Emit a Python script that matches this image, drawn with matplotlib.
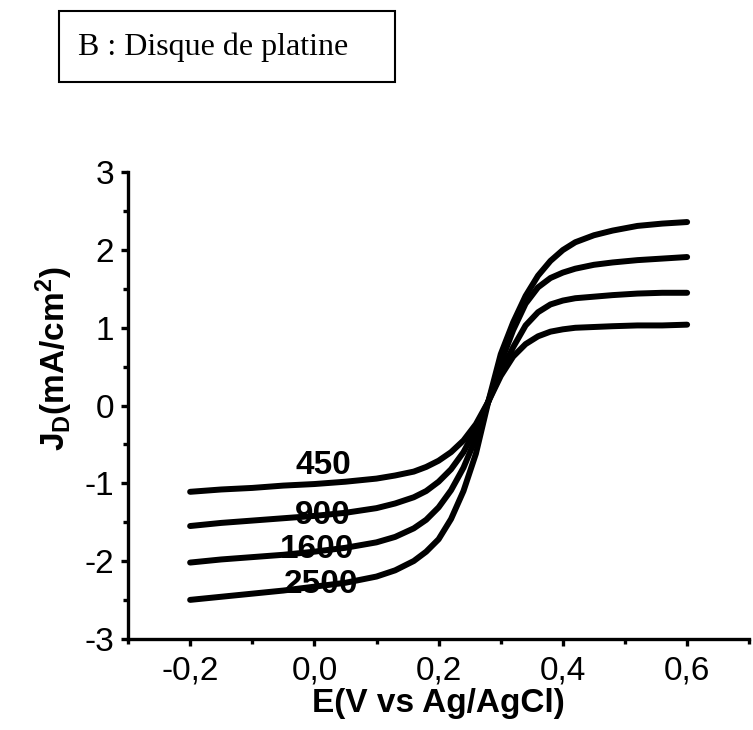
import numpy as np
import matplotlib
matplotlib.use("Agg")
import matplotlib.pyplot as plt
from matplotlib.ticker import MultipleLocator, FuncFormatter
from matplotlib.patches import Rectangle

plt.rcParams['font.family'] = ['Liberation Sans', 'DejaVu Sans']
plt.rcParams['axes.unicode_minus'] = False
plt.rcParams['mathtext.fontset'] = 'custom'
plt.rcParams['mathtext.rm'] = 'Liberation Sans:bold'
plt.rcParams['mathtext.bf'] = 'Liberation Sans:bold'
plt.rcParams['mathtext.it'] = 'Liberation Sans:bold'

# potential (V vs Ag/AgCl)
E = [-0.2, -0.15, -0.1, -0.05, 0.0, 0.05, 0.1, 0.13, 0.16, 0.18,
     0.20, 0.22, 0.24, 0.26, 0.28, 0.30, 0.32, 0.34, 0.36, 0.38,
     0.40, 0.42, 0.45, 0.48, 0.52, 0.56, 0.60]

# current density (mA/cm2) for each rotation speed (rpm)
j_450 = [-1.11, -1.08, -1.06, -1.03, -1.01, -0.98, -0.94, -0.90, -0.85, -0.79,
         -0.71, -0.60, -0.45, -0.24, 0.05, 0.38, 0.63, 0.79, 0.89, 0.95,
         0.98, 1.00, 1.01, 1.02, 1.03, 1.03, 1.04]
j_900 = [-1.55, -1.51, -1.48, -1.45, -1.42, -1.38, -1.32, -1.26, -1.18, -1.10,
         -0.98, -0.82, -0.60, -0.30, 0.05, 0.42, 0.75, 1.03, 1.20, 1.30,
         1.35, 1.38, 1.40, 1.42, 1.44, 1.45, 1.45]
j_1600 = [-2.02, -1.98, -1.95, -1.92, -1.88, -1.83, -1.76, -1.69, -1.58, -1.47,
          -1.31, -1.09, -0.80, -0.42, 0.05, 0.55, 0.97, 1.31, 1.52, 1.64,
          1.71, 1.76, 1.81, 1.84, 1.87, 1.89, 1.91]
j_2500 = [-2.50, -2.46, -2.42, -2.38, -2.33, -2.28, -2.20, -2.12, -2.00, -1.88,
          -1.72, -1.46, -1.10, -0.62, 0.05, 0.66, 1.07, 1.41, 1.67, 1.86,
          2.00, 2.10, 2.19, 2.25, 2.31, 2.34, 2.36]

speeds = ['450', '900', '1600', '2500']
label_pos = [(0.014, -0.77), (0.014, -1.42), (0.005, -1.85), (0.011, -2.30)]

fig = plt.figure(figsize=(7.53, 7.30), dpi=100)
ax = fig.add_axes([0.170, 0.125, 0.825, 0.639])

for j in [j_450, j_900, j_1600, j_2500]:
    ax.plot(E, j, color='black', lw=4.3, solid_capstyle='round',
            solid_joinstyle='round')

for s, (x, y) in zip(speeds, label_pos):
    ax.text(x, y, s, fontsize=24, fontweight='bold', ha='center', va='center')

ax.set_xlim(-0.3, 0.7)
ax.set_ylim(-3, 3)
ax.spines['top'].set_visible(False)
ax.spines['right'].set_visible(False)
for sp in ['left', 'bottom']:
    ax.spines[sp].set_linewidth(2.4)

ax.xaxis.set_major_locator(MultipleLocator(0.2))
ax.xaxis.set_minor_locator(MultipleLocator(0.1))
ax.yaxis.set_major_locator(MultipleLocator(1))
ax.yaxis.set_minor_locator(MultipleLocator(0.5))
ax.xaxis.set_major_formatter(FuncFormatter(lambda v, p: f"{v:.1f}".replace('.', ',')))
ax.yaxis.set_major_formatter(FuncFormatter(lambda v, p: f"{v:.0f}"))
ax.tick_params(which='major', direction='out', length=5, width=2.4, labelsize=24)
ax.tick_params(axis='x', which='major', pad=7)
ax.tick_params(axis='y', which='major', pad=5)
ax.tick_params(which='minor', direction='out', length=3.5, width=2.4)

ax.set_xlabel('E(V vs Ag/AgCl)', fontsize=24, fontweight='bold')
ax.xaxis.set_label_coords(0.5, -0.105)
ax.set_ylabel(r'J$_{\mathrm{D}}$(mA/cm$^{\mathrm{2}}$)', fontsize=24, fontweight='bold')
ax.yaxis.set_label_coords(-0.085, 0.60)

# title box
fig.patches.append(Rectangle((59 / 753, 1 - 82 / 730), 336 / 753, 71 / 730,
                             transform=fig.transFigure, fill=False,
                             edgecolor='black', lw=1.5))
fig.text(78 / 753, 1 - 47 / 730, 'B : Disque de platine', family='Liberation Serif',
         fontsize=23, ha='left', va='center')

fig.savefig('out.png', dpi=100)
